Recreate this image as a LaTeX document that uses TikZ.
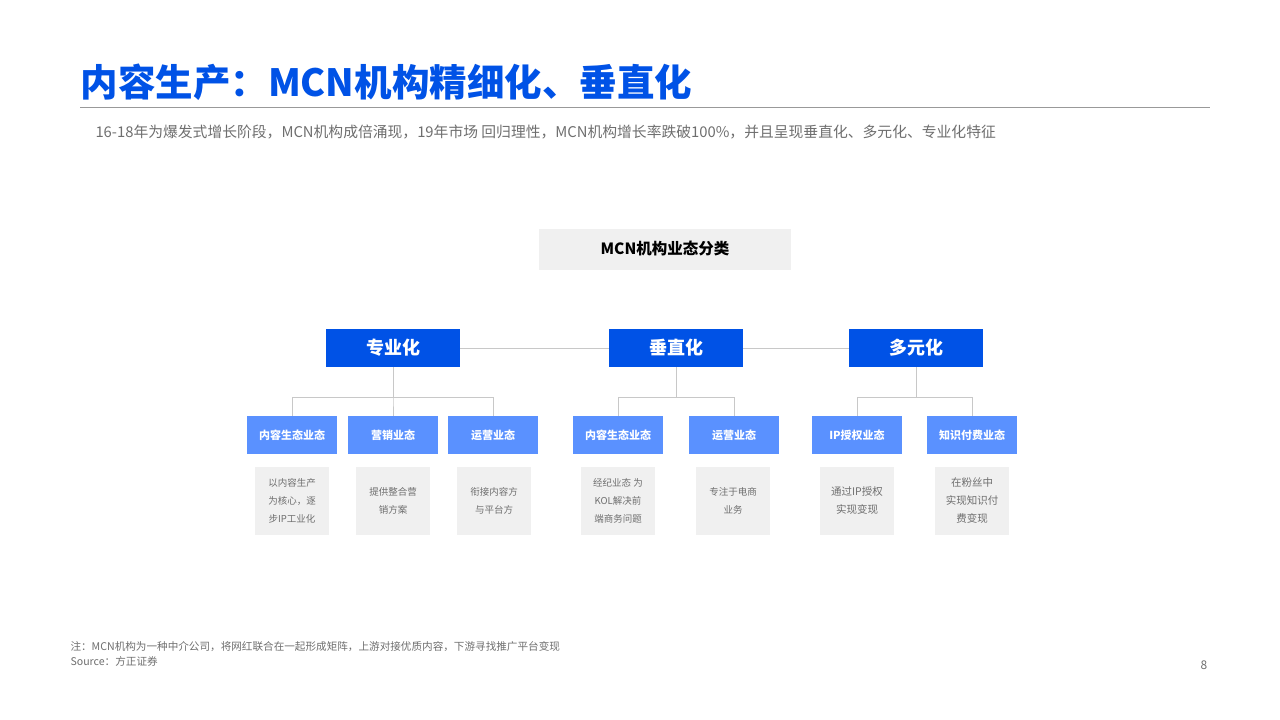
\documentclass[tikz,border=0pt]{standalone}
\usepackage{fontspec}
\setmainfont{Noto Sans CJK SC}
\usetikzlibrary{positioning}
\definecolor{mainblue}{RGB}{0,82,230}
\definecolor{subblue}{RGB}{90,145,255}
\definecolor{linegray}{RGB}{200,200,200}
\definecolor{txtgray}{RGB}{110,110,110}
\begin{document}
\begin{tikzpicture}[x=1pt,y=-1pt,
    topbox/.style={rectangle, fill=mainblue, text=white, font=\fontsize{18}{20}\selectfont\bfseries, minimum width=134pt, minimum height=38pt},
    subbox/.style={rectangle, fill=subblue, text=white, font=\fontsize{11}{13}\selectfont\bfseries, minimum width=90pt, minimum height=38pt},
    descbox/.style={rectangle, fill=black!6, text=txtgray, font=\fontsize{9.5}{18}\selectfont, align=center, minimum width=74pt, minimum height=68pt},
    link/.style={draw=linegray, line width=0.8pt}
]
\useasboundingbox (0,0) rectangle (1280,720);

% Title
\node[anchor=west, text=mainblue, font=\fontsize{37.5}{40}\selectfont\bfseries] (title) at (77,82) {内容生产：MCN机构精细化、垂直化};
\draw[black!40, line width=0.8pt] (80,107) -- (1210,107);
\node[anchor=west, text=txtgray, font=\fontsize{14.8}{16}\selectfont] (intro) at (92,132) {16-18年为爆发式增长阶段，MCN机构成倍涌现，19年市场 回归理性，MCN机构增长率跌破100\%，并且呈现垂直化、多元化、专业化特征};

% Header
\node[rectangle, fill=black!6, minimum width=252pt, minimum height=41pt, font=\fontsize{15.5}{17}\selectfont\bfseries] (head) at (665,249) {MCN机构业态分类};

% Top level
\node[topbox] (pro) at (393,348) {专业化};
\node[topbox] (ver) at (676,348) {垂直化};
\node[topbox] (div) at (916,348) {多元化};
\draw[link] (pro) -- (ver);
\draw[link] (ver) -- (div);

% Sub level
\node[subbox] (p1) at (292,435) {内容生态业态};
\node[subbox] (p2) at (393,435) {营销业态};
\node[subbox] (p3) at (493,435) {运营业态};
\node[subbox] (v1) at (618,435) {内容生态业态};
\node[subbox] (v2) at (734,435) {运营业态};
\node[subbox] (d1) at (857,435) {IP授权业态};
\node[subbox] (d2) at (972,435) {知识付费业态};

% Tree lines
\foreach \up/\kid in {pro/p1,pro/p2,pro/p3,ver/v1,ver/v2,div/d1,div/d2}
  \draw[link] (\up.south) -- ++(0,30) -| (\kid.north);

% Descriptions
\node[descbox] (pd1) at (292,501) {以内容生产\\为核心，逐\\步IP工业化};
\node[descbox] (pd2) at (393,501) {提供整合营\\销方案};
\node[descbox] (pd3) at (494,501) {衔接内容方\\与平台方};
\node[descbox] (vd1) at (618,501) {经纪业态 为\\KOL解决前\\端商务问题};
\node[descbox] (vd2) at (733,501) {专注于电商\\业务};
\node[descbox, font=\fontsize{10.5}{18}\selectfont] (dd1) at (857,501) {通过IP授权\\实现变现};
\node[descbox, font=\fontsize{10.5}{18}\selectfont] (dd2) at (972,501) {在粉丝中\\实现知识付\\费变现};

% Footer
\node[anchor=west, text=txtgray, font=\fontsize{10.6}{12}\selectfont] (note) at (67,647) {注：MCN机构为一种中介公司，将网红联合在一起形成矩阵，上游对接优质内容，下游寻找推广平台变现};
\node[anchor=west, text=txtgray, font=\fontsize{10.6}{12}\selectfont] (src) at (67,661) {Source：方正证券};
\node[text=txtgray, font=\fontsize{12}{14}\selectfont] (page) at (1204,665) {8};
\end{tikzpicture}
\end{document}
